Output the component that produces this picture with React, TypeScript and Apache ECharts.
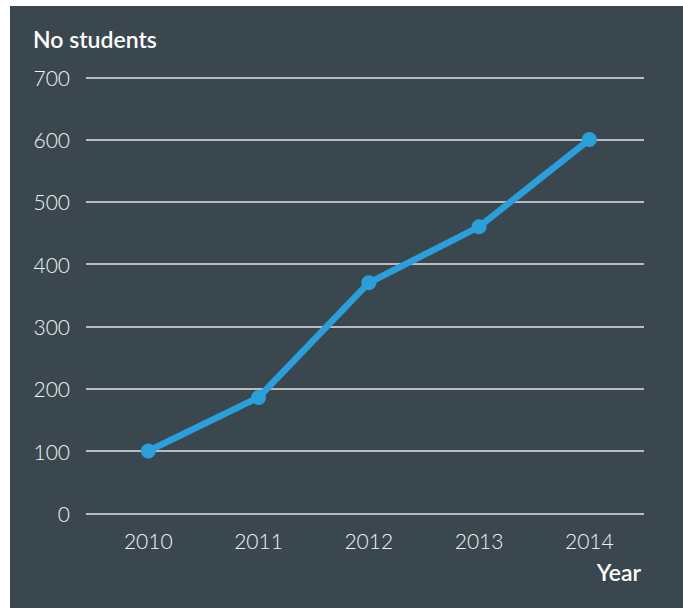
import React, { useEffect, useRef } from "react";
import * as echarts from "echarts";

const years = [2010, 2011, 2012, 2013, 2014];
const students = [100, 186, 370, 460, 600];
const yTicks = [0, 100, 200, 300, 400, 500, 600, 700];

export default function App() {
  const ref = useRef<HTMLDivElement>(null);
  useEffect(() => {
    if (!ref.current) return;
    const chart = echarts.init(ref.current, null, { renderer: "svg" });
    const labelFont = { fontFamily: "Lato", fontWeight: 300 as any, fontSize: 21, color: "#f2f3f4" };
    chart.setOption({
      animation: false,
      backgroundColor: "#3a474f",
      grid: { left: 76, top: 71.3, width: 558, height: 436 },
      xAxis: {
        type: "value",
        min: 2009.435,
        max: 2014.496,
        axisLine: { show: false },
        axisTick: { show: false },
        splitLine: { show: false },
        axisLabel: { ...labelFont, margin: 17, customValues: years, formatter: (v: number) => String(v) },
      },
      yAxis: {
        type: "value",
        min: 0,
        max: 700,
        interval: 100,
        axisLine: { show: false },
        axisTick: { show: false },
        splitLine: { lineStyle: { color: "#e2e4e5", width: 1.5 } },
        axisLabel: { ...labelFont, margin: 16, customValues: yTicks },
      },
      graphic: [
        {
          type: "text",
          left: 23,
          top: 21,
          style: { text: "No students", fontFamily: "Lato", fontWeight: 600, fontSize: 23, fill: "#ffffff" },
        },
        {
          type: "text",
          right: 42,
          top: 554,
          style: { text: "Year", fontFamily: "Lato", fontWeight: 600, fontSize: 23, fill: "#ffffff" },
        },
      ],
      series: [
        {
          type: "line",
          data: years.map((y, i) => [y, students[i]]),
          lineStyle: { color: "#2a9fd9", width: 6.5 },
          itemStyle: { color: "#2a9fd9" },
          symbol: "circle",
          symbolSize: 15,
        },
      ],
    });
    return () => chart.dispose();
  }, []);
  return (
    <div
      ref={ref}
      style={{ position: "fixed", left: 10, top: 6, width: 673, height: 602 }}
    />
  );
}
